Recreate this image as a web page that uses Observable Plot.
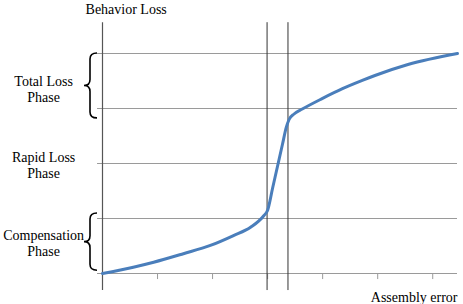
<!DOCTYPE html>
<html>
<head>
<meta charset="utf-8">
<script src="https://cdn.jsdelivr.net/npm/d3@7"></script>
<script src="https://cdn.jsdelivr.net/npm/@observablehq/plot@0.6"></script>
<style>
  html, body { margin: 0; padding: 0; background: #fff; }
  #chart svg { display: block; }
  #chart svg text { font-family: "Liberation Serif", "Times New Roman", Tinos, "DejaVu Serif", serif !important; }
</style>
</head>
<body>
<div id="chart"></div>
<script>
// Curve: assembly error (x) vs behavior loss (y), in grid units
const curveX = [0, 0.56, 0.93, 1.47, 1.96, 2.38, 2.69, 2.93, 3.0, 3.09, 3.18, 3.27, 3.34, 3.39, 3.48, 3.63, 3.99, 4.36, 4.72, 4.95, 5.55, 6.45];
const curveY = [0, 0.115, 0.205, 0.36, 0.51, 0.69, 0.84, 1.05, 1.15, 1.55, 1.95, 2.35, 2.66, 2.8, 2.9, 2.99, 3.18, 3.36, 3.51, 3.6, 3.8, 4.0];
const gridY = [0, 1, 2, 3, 4];
const tickX = [0, 1, 2, 3, 4, 5, 6];
const boundaryX = [2.99, 3.37];
const phaseLabels = ["Total Loss\nPhase", "Rapid Loss\nPhase", "Compensation\nPhase"];
const phaseY = [3.36, 1.98, 0.55];
const braceTop = [4.0, 1.09];
const braceBottom = [2.82, 0.05];
const yTitle = "Behavior Loss";
const xTitle = "Assembly error";

const curve = curveX.map((x, i) => ({x, y: curveY[i]}));
const phases = phaseLabels.map((label, i) => ({label, y: phaseY[i]}));
const braces = braceTop.map((t, i) => ({top: t, bottom: braceBottom[i]}));

const font = "'Liberation Serif', 'Times New Roman', Tinos, 'DejaVu Serif', serif";

function braceMark(index, scales) {
  const g = d3.create("svg:g");
  for (const b of braces) {
    const ya = scales.y(b.top), yb = scales.y(b.bottom);
    const ym = (ya + yb) / 2;
    const x0 = 97, x1 = 90, x2 = 84, r = 6;
    const p = `M${x0},${ya} Q${x1},${ya} ${x1},${ya + r} L${x1},${ym - r} Q${x1},${ym} ${x2},${ym} Q${x1},${ym} ${x1},${ym + r} L${x1},${yb - r} Q${x1},${yb} ${x0},${yb}`;
    g.append("path").attr("d", p).attr("fill", "none").attr("stroke", "#000").attr("stroke-width", 1.6);
  }
  return g.node();
}

const chart = Plot.plot({
  width: 463,
  height: 304,
  marginLeft: 102,
  marginRight: 6,
  marginTop: 53,
  marginBottom: 31,
  x: {domain: [0, 6.45], axis: null},
  y: {domain: [0, 4], axis: null},
  style: {background: "#fff", fontFamily: font},
  marks: [
    Plot.ruleY(gridY, {x1: -0.09, x2: 6.45, stroke: "#9a9a9a", strokeWidth: 1.2}),
    Plot.ruleX(tickX, {x: d => d, y1: 0, y2: -0.11, stroke: "#9a9a9a"}),
    Plot.ruleX([0], {y1: -0.31, y2: 4.56, stroke: "#555", strokeWidth: 1.2}),
    Plot.ruleX(boundaryX, {y1: -0.31, y2: 4.56, stroke: "#333", strokeWidth: 1}),
    Plot.line(curve, {x: "x", y: "y", stroke: "#4a7ebb", strokeWidth: 3, curve: "monotone-x"}),
    Plot.text(phases, {x: -1.07, y: "y", text: "label", fontSize: 14, fontFamily: font, fill: "#000", lineHeight: 1.15}),
    braceMark,
    Plot.text([yTitle], {x: 0.43, y: 4.56, dy: -13, text: d => d, fontSize: 14, fontFamily: font, fill: "#000"}),
    Plot.text([xTitle], {x: 6.45, y: -0.31, dy: 7, text: d => d, fontSize: 14, fontFamily: font, fill: "#000", textAnchor: "end"})
  ]
});
document.getElementById("chart").appendChild(chart);
</script>
</body>
</html>
